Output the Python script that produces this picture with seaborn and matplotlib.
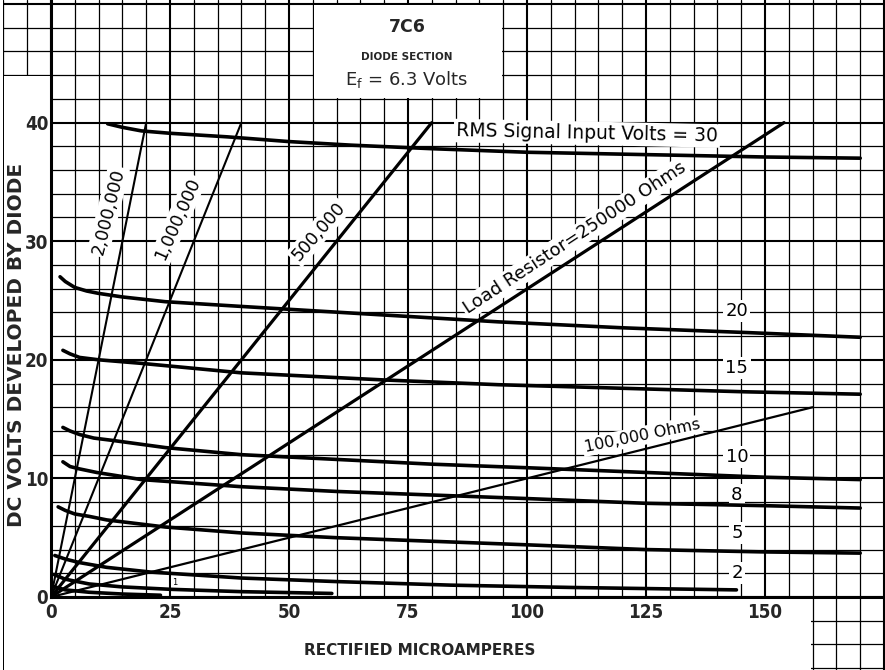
import numpy as np
import pandas as pd
import matplotlib
matplotlib.use("Agg")
import matplotlib.pyplot as plt
from matplotlib import font_manager as fm
from matplotlib.ticker import MultipleLocator, FixedLocator
from matplotlib.patches import Rectangle
import seaborn as sns

# ---------------- data ----------------
x_ticks = [0, 25, 50, 75, 100, 125, 150]
y_ticks = [0, 10, 20, 30, 40]

signal_volts = [30, 20, 15, 10, 8, 5, 2, 1, 0.5]
sig30_ua = [11.9, 15, 19, 25, 37, 50, 63, 80, 100, 125, 150, 170]
sig30_v = [39.9, 39.6, 39.3, 39.1, 38.8, 38.4, 38.1, 37.8, 37.5, 37.3, 37.1, 37.0]
sig20_ua = [1.9, 3, 5, 7.5, 10, 15, 24, 40, 69, 94, 120, 146, 170]
sig20_v = [27.0, 26.6, 26.1, 25.8, 25.6, 25.3, 24.9, 24.5, 23.8, 23.2, 22.7, 22.3, 21.9]
sig15_ua = [2.5, 4, 6, 10, 19, 40, 70, 94, 120, 146, 170]
sig15_v = [20.8, 20.5, 20.2, 20.0, 19.7, 18.9, 18.3, 17.9, 17.6, 17.3, 17.1]
sig10_ua = [2.5, 4, 6, 9, 13, 24, 40, 60, 80, 100, 125, 150, 170]
sig10_v = [14.3, 14.0, 13.7, 13.4, 13.2, 12.6, 12.0, 11.6, 11.2, 10.9, 10.5, 10.1, 9.9]
sig8_ua = [2.5, 4, 6, 9.6, 19, 40, 60, 80, 100, 125, 150, 170]
sig8_v = [11.4, 11.0, 10.8, 10.5, 9.9, 9.3, 8.9, 8.6, 8.3, 7.9, 7.7, 7.5]
sig5_ua = [1.5, 3, 5, 8, 11.7, 24, 40, 60, 80, 100, 125, 150, 170]
sig5_v = [7.6, 7.3, 7.0, 6.8, 6.5, 5.9, 5.4, 5.0, 4.7, 4.4, 4.0, 3.8, 3.7]
sig2_ua = [0.8, 3, 6, 11.7, 21, 40, 60, 84, 110, 144]
sig2_v = [3.5, 3.2, 2.9, 2.5, 2.1, 1.6, 1.3, 1.0, 0.8, 0.6]
sig1_ua = [0.6, 3, 8, 15, 25, 40, 59]
sig1_v = [1.9, 1.5, 1.1, 0.85, 0.65, 0.45, 0.3]
sig05_ua = [0.4, 3, 8, 15, 23]
sig05_v = [0.9, 0.6, 0.4, 0.25, 0.15]

load_ohms = [2000000, 1000000, 500000, 250000, 100000]
load_end_ua = [20, 40, 80, 154, 160]
load_end_v = [40, 40, 40, 40, 16]

# ---------------- build tables ----------------
sig_ua = [sig30_ua, sig20_ua, sig15_ua, sig10_ua, sig8_ua, sig5_ua, sig2_ua, sig1_ua, sig05_ua]
sig_v = [sig30_v, sig20_v, sig15_v, sig10_v, sig8_v, sig5_v, sig2_v, sig1_v, sig05_v]
sig_df = pd.concat([pd.DataFrame({"ua": u, "v": v, "signal": s})
                    for u, v, s in zip(sig_ua, sig_v, signal_volts)], ignore_index=True)
load_df = pd.concat([pd.DataFrame({"ua": [0, u], "v": [0, v], "ohms": r})
                     for u, v, r in zip(load_end_ua, load_end_v, load_ohms)], ignore_index=True)

# ---------------- style ----------------
sns.set_style("white")
plt.rcParams["font.family"] = ["DejaVu Sans"]


def narrow_bold(size):
    """Pick a condensed bold face if one is installed."""
    for f in fm.fontManager.ttflist:
        if f.name in ("Liberation Sans Narrow", "Arial Narrow") and f.weight in ("bold", 700):
            return fm.FontProperties(fname=f.fname, size=size)
    for f in fm.fontManager.ttflist:
        if f.name == "DejaVu Sans" and "condensed" in str(f.stretch) and f.weight in ("bold", 700):
            return fm.FontProperties(fname=f.fname, size=size)
    for f in fm.fontManager.ttflist:
        if "Condensed" in f.fname and "Bold" in f.fname and "Oblique" not in f.fname \
                and "Italic" not in f.fname:
            return fm.FontProperties(fname=f.fname, size=size)
    return fm.FontProperties(family="DejaVu Sans", weight="bold", size=size - 2)


W, H = 885, 670
PX_X, PX_Y = 4.76, 11.86          # pixels per microampere / per volt
X0, Y0 = 51, 597                  # pixel position of origin
fig = plt.figure(figsize=(W / 100, H / 100), dpi=100)

xmin_bg, xmax = -X0 / PX_X, (W - X0) / PX_X
ymin_bg, ymax = -(H - Y0) / PX_Y, Y0 / PX_Y

# background paper grid
bg = fig.add_axes([0, 0, 1, 1])
bg.set_xlim(xmin_bg, xmax)
bg.set_ylim(ymin_bg, ymax)
bg.xaxis.set_major_locator(MultipleLocator(25))
bg.xaxis.set_minor_locator(MultipleLocator(5))
bg.yaxis.set_major_locator(MultipleLocator(10))
bg.yaxis.set_minor_locator(MultipleLocator(2))
bg.grid(which="major", color="black", lw=1.5)
bg.grid(which="minor", color="black", lw=0.9)
bg.tick_params(which="both", length=0, labelbottom=False, labelleft=False)
for s in bg.spines.values():
    s.set_visible(False)
white = dict(facecolor="white", edgecolor="none", zorder=5)
bg.add_patch(Rectangle((xmin_bg - 1, ymin_bg - 1), -10.12 - xmin_bg + 1, ymax + 10, **white))
bg.add_patch(Rectangle((-9.85, ymin_bg - 1), 9.85, 44 - 0.1 - ymin_bg + 1, **white))
bg.add_patch(Rectangle((-9.85, ymin_bg - 1), 159.7 + 9.85, -ymin_bg + 1, **white))
bg.add_patch(Rectangle((55.15, 42.1), 39.7, 7.8, **white))

# main chart
ax = fig.add_axes([X0 / W, (H - Y0) / H, (W - X0) / W, Y0 / H])
ax.patch.set_visible(False)
ax.set_xlim(0, xmax)
ax.set_ylim(0, ymax)

sns.lineplot(data=sig_df, x="ua", y="v", units="signal", estimator=None, sort=False,
             color="black", lw=2.6, ax=ax, zorder=3)
load_lw = {2000000: 1.5, 1000000: 1.5, 500000: 2.3, 250000: 2.3, 100000: 1.6}
for r in load_ohms:
    d = load_df[load_df["ohms"] == r]
    sns.lineplot(data=d, x="ua", y="v", sort=False, color="black", lw=load_lw[r], ax=ax, zorder=3)

ax.xaxis.set_major_locator(FixedLocator(x_ticks))
ax.yaxis.set_major_locator(FixedLocator(y_ticks))
ax.set_xticklabels([str(t) for t in x_ticks])
ax.set_yticklabels([str(t) for t in y_ticks])
tfp = narrow_bold(13.5)
for lab in ax.get_xticklabels() + ax.get_yticklabels():
    lab.set_fontproperties(tfp)
ax.tick_params(axis="x", length=0, pad=4)
ax.tick_params(axis="y", length=0, pad=2)
for side in ["top", "right"]:
    ax.spines[side].set_visible(False)
for side in ["left", "bottom"]:
    ax.spines[side].set_linewidth(2.2)
    ax.spines[side].set_color("black")

ax.set_xlabel("RECTIFIED MICROAMPERES", fontsize=11, fontweight="bold")
ax.set_ylabel("DC VOLTS DEVELOPED BY DIODE", fontsize=14.5, fontweight="bold")
ax.xaxis.set_label_coords(0.442, -0.077)
ax.yaxis.set_label_coords(-0.030, 0.422)

box = dict(boxstyle="square,pad=0.12", fc="white", ec="none")
txt = dict(ha="center", va="center", color="black", zorder=2, bbox=box)
ax.text(12.0, 32.5, "2,000,000", rotation=76, fontsize=12.5, **txt)
ax.text(26.7, 31.9, "1,000,000", rotation=66, fontsize=12.5, **txt)
ax.text(56.2, 30.8, "500,000", rotation=49, fontsize=12.5, **txt)
ax.text(110.1, 30.3, "Load Resistor=250000 Ohms", rotation=33.3, fontsize=13, **txt)
ax.text(124.2, 13.6, "100,000 Ohms", rotation=11.5, fontsize=11.5, **txt)
ax.text(112.6, 39.1, f"RMS Signal Input Volts = {signal_volts[0]}", rotation=-1.2, fontsize=13.5, **txt)

label_y = [24.1, 19.3, 11.8, 8.6, 5.4, 2.0]
for s, yy in zip(signal_volts[1:7], label_y):
    ax.text(144.1, yy, str(s), fontsize=13, **txt)
ax.text(26.0, 1.26, str(signal_volts[7]), fontsize=6, **txt)

ax.text(74.8, 48.1, "7C6", fontsize=12.5, fontweight="bold", ha="center", va="center")
ax.text(74.8, 45.5, "DIODE SECTION", fontsize=7.5, fontweight="bold", ha="center", va="center")
ax.text(74.8, 43.6, r"E$_{\mathregular{f}}$ = 6.3 Volts", fontsize=13, ha="center", va="center")

fig.savefig("out.png", dpi=100)
